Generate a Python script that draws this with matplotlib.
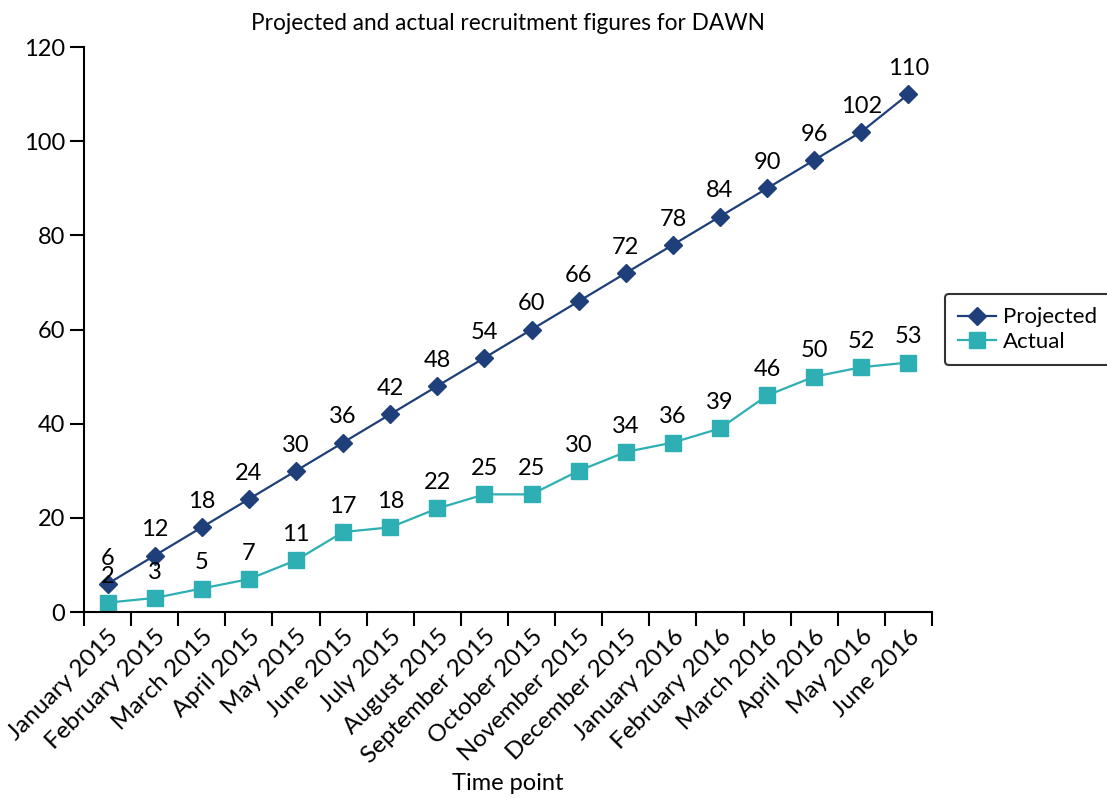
import matplotlib
matplotlib.use('Agg')
import matplotlib.pyplot as plt

plt.rcParams['font.family'] = ['Lato', 'DejaVu Sans']

months = ['January 2015', 'February 2015', 'March 2015', 'April 2015', 'May 2015',
          'June 2015', 'July 2015', 'August 2015', 'September 2015', 'October 2015',
          'November 2015', 'December 2015', 'January 2016', 'February 2016',
          'March 2016', 'April 2016', 'May 2016', 'June 2016']
projected = [6, 12, 18, 24, 30, 36, 42, 48, 54, 60, 66, 72, 78, 84, 90, 96, 102, 110]
actual = [2, 3, 5, 7, 11, 17, 18, 22, 25, 25, 30, 34, 36, 39, 46, 50, 52, 53]

dark = '#1f3f7a'
teal = '#2eafb3'

fig = plt.figure(figsize=(11.07, 7.98), dpi=100)
ax = fig.add_axes([0.0759, 0.233, 0.766, 0.708])

x = list(range(len(months)))
ax.plot(x, projected, color=dark, marker='D', markersize=9, linewidth=1.6, label='Projected')
ax.plot(x, actual, color=teal, marker='s', markersize=11, linewidth=1.6, label='Actual')

for xi, v in zip(x, projected):
    ax.annotate(str(v), (xi, v), textcoords='offset points', xytext=(0, 11),
                ha='center', va='bottom', fontsize=17)
for xi, v in zip(x, actual):
    ax.annotate(str(v), (xi, v), textcoords='offset points', xytext=(0, 11),
                ha='center', va='bottom', fontsize=17)

ax.set_xlim(-0.5, len(months) - 0.5)
ax.set_ylim(0, 120)
ax.set_yticks(range(0, 121, 20))
ax.set_xticks([i - 0.5 for i in range(len(months) + 1)], minor=False)
ax.set_xticklabels([''] * (len(months) + 1))
ax.set_xticks(x, minor=True)
ax.set_xticklabels(months, minor=True, rotation=45, ha='right', rotation_mode='anchor', fontsize=17.5)
ax.tick_params(axis='x', which='minor', length=0, pad=10)
ax.tick_params(axis='x', which='major', length=10, width=1.5, direction='out')
ax.tick_params(axis='y', length=10, width=1.5, direction='out', labelsize=17)

for s in ['top', 'right']:
    ax.spines[s].set_visible(False)
for s in ['left', 'bottom']:
    ax.spines[s].set_linewidth(1.5)

ax.set_title('Projected and actual recruitment figures for DAWN', fontsize=16.3, pad=12)
ax.set_xlabel('Time point', fontsize=17, labelpad=4)

leg = ax.legend(loc='center left', bbox_to_anchor=(1.002, 0.5), fontsize=16,
                frameon=True, fancybox=True, edgecolor='black', handlelength=1.7,
                handletextpad=0.3, borderpad=0.6, labelspacing=0.2)
leg.get_frame().set_linewidth(1.5)

fig.savefig('out.png', dpi=100)
